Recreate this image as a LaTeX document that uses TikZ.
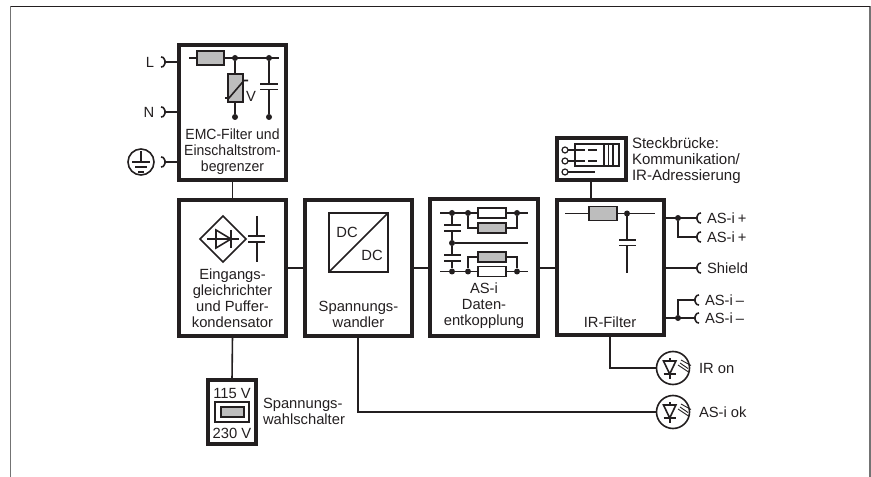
\documentclass[tikz,border=0pt]{standalone}
\usepackage{fontspec}
\usetikzlibrary{shapes.geometric}
\setmainfont{Liberation Sans}
\newfontfamily\tightfont[FakeStretch=0.95]{Liberation Sans}
\definecolor{ink}{HTML}{231F20}
\definecolor{fillgray}{HTML}{BDBDBD}
\tikzset{
  x=1bp,y=-1bp,
  ln/.style={line width=1.6bp,draw=ink},
  blk/.style={draw=ink,line width=4bp,fill=white,rectangle,inner sep=0,outer sep=0},
  res/.style={draw=ink,line width=1.6bp,fill=white,rectangle,inner sep=0,outer sep=0},
  resg/.style={res,fill=fillgray},
  ledc/.style={draw=ink,line width=1.6bp,circle,fill=white,minimum size=33bp,inner sep=0,outer sep=0},
  txt/.style={text=ink,inner sep=0,outer sep=0,align=center,font=\fontsize{14.8}{16}\selectfont},
  ltxt/.style={txt,align=left,anchor=west},
  dot/.style={circle,fill=ink,inner sep=0,outer sep=0,minimum size=6bp},
  rplug/.pic={\draw[ln] (-3,-5) .. controls (1,-5) and (0,-1.5) .. (1.5,0) .. controls (0,1.5) and (1,5) .. (-3,5);},
  lplug/.pic={\draw[ln] (3,-5) .. controls (-1,-5) and (0,-1.5) .. (-1.5,0) .. controls (0,1.5) and (-1,5) .. (3,5);},
  ledsym/.pic={
    \draw[ln] (-3.3,-10) -- (-3.3,11);
    \draw[ln] (-9.5,6) -- (2.9,6);
    \draw[ln,fill=white] (-9.5,-7) -- (2.9,-7) -- (-3.3,6) -- cycle;
    \draw[line width=0.9bp,draw=ink] (5,-3) -- (15.5,4);
    \draw[line width=0.9bp,draw=ink] (8,-8) -- (18,-2.5);
    \draw[line width=0.9bp,draw=ink] (7,-5) -- (15,0.5);
  },
}
\begin{document}
\begin{tikzpicture}
\useasboundingbox (0,0) rectangle (871,477);
% frame
\coordinate (fbl) at (10.5,477);
\coordinate (ftl) at (10.5,6.5);
\coordinate (ftr) at (870,6.5);
\coordinate (fbr) at (870,477);
\draw[line width=1.2bp,draw=black!55] (fbl) -- (ftl);
\draw[line width=1.2bp,draw=black!55] (ftr) -- (fbr);
\draw[line width=1.2bp,draw=ink] (ftl) -- (ftr);

% blocks
\node[blk,minimum width=107bp,minimum height=135bp] (emc) at (232.5,112.5) {};
\node[blk,minimum width=107bp,minimum height=136bp] (rect) at (232.5,268) {};
\node[blk,minimum width=107bp,minimum height=136bp] (conv) at (358.5,268) {};
\node[blk,minimum width=108bp,minimum height=136bp] (data) at (484,267.5) {};
\node[blk,minimum width=107bp,minimum height=135bp] (irf) at (610.5,267.5) {};
\node[blk,minimum width=69bp,minimum height=42bp] (jump) at (591,159.5) {};
\node[blk,minimum width=48bp,minimum height=64bp] (volt) at (232,412) {};

% connectors between blocks
\draw[ln] (emc.south) -- (rect.north);
\draw[ln] (rect.south) -- (volt.north);
\draw[ln] (rect.east) -- (conv.west);
\draw[ln] (conv.east) -- (data.west |- conv.east);
\draw[ln] (data.east |- conv.east) -- (irf.west |- conv.east);
\draw[ln] (jump.south) -- (irf.north -| jump.south);

% input plugs
\node[txt] (tL) at (150,62) {L};
\node[txt] (tN) at (149,112) {N};
\node[draw=ink,line width=1.6bp,circle,minimum size=26bp,inner sep=0,outer sep=0] (gnd) at (141,162) {};
\coordinate (pL) at (164,62);
\coordinate (pN) at (164,112);
\coordinate (pG) at (164,162);
\pic at (pL) {rplug};
\pic at (pN) {rplug};
\pic at (pG) {rplug};
\draw[ln] (pL) -- (pL -| emc.west);
\draw[ln] (pN) -- (pN -| emc.west);
\draw[ln] (pG) -- (pG -| emc.west);
\coordinate (g0) at (141,151);
\coordinate (g1) at (141,162);
\draw[ln] (g0) -- (g1);
\draw[ln] (132,162) -- (150,162);
\draw[ln] (135,167) -- (147,167);
\draw[ln] (138,172) -- (144,172);

% EMC interior
\coordinate (ea) at (189,58);
\coordinate (eb) at (279,58);
\draw[ln] (ea) -- (eb);
\node[resg,minimum width=27bp,minimum height=14bp] (er) at (210.5,58) {};
\node[dot] (ed1) at (235,58) {};
\node[dot] (ed2) at (269,58) {};
\node[dot] (ed3) at (235,117) {};
\node[dot] (ed4) at (269,117) {};
\draw[ln] (ed1) -- (ed3);
\node[resg,minimum width=15bp,minimum height=28bp] (evar) at (235.5,88) {};
\draw[ln] (225,98) -- (229,98) -- (244,80.5) -- (248,80.5);
\node[txt] (tV) at (251,96.5) {V};
\coordinate (ec1) at (269,84);
\coordinate (ec2) at (269,89.5);
\draw[ln] (ed2) -- (ec1);
\draw[ln] (ec2) -- (ed4);
\draw[ln] (260,84) -- (278,84);
\draw[ln] (260,89.5) -- (278,89.5);
\node[txt,font=\tightfont\fontsize{14.8}{16}\selectfont] (temc) at (232.5,151.5) {EMC-Filter und\\Einschaltstrom-\\begrenzer};

% rectifier interior
\node[draw=ink,line width=1.6bp,diamond,aspect=1,inner sep=0,outer sep=0,minimum size=46bp] (rd) at (223,239) {};
\draw[ln] (rd.center) ++(-16,0) -- ++(32,0);
\draw[ln] (216,230) -- (216,248) -- (231,239) -- cycle;
\draw[ln] (231,230) -- (231,248);
\coordinate (rc1) at (257,216);
\coordinate (rc2) at (257,262);
\draw[ln] (rc1) -- (257,236);
\draw[ln] (257,242) -- (rc2);
\draw[ln] (248,236) -- (265,236);
\draw[ln] (248,242) -- (265,242);
\node[txt] (trect) at (232.5,298.5) {Eingangs-\\gleichrichter\\und Puffer-\\kondensator};

% DC/DC
\node[draw=ink,line width=1.6bp,rectangle,inner sep=0,outer sep=0,minimum width=59bp,minimum height=59bp] (dcb) at (358.5,242.5) {};
\draw[ln] (dcb.south west) -- (dcb.north east);
\node[txt] (dc1) at (347,232) {DC};
\node[txt] (dc2) at (372,255) {DC};
\node[txt] (tconv) at (358.5,314) {Spannungs-\\wandler};

% data decoupling
\coordinate (d1) at (440,213);
\coordinate (d2) at (528,213);
\coordinate (d3) at (528,243);
\coordinate (d4) at (440,271.5);
\coordinate (d5) at (528,271.5);
\draw[ln] (d1) -- (d2);
\draw[ln] (d4) -- (d5);
\node[dot] (da) at (452,213) {};
\node[dot] (db) at (468,213) {};
\node[dot] (dc) at (517,213) {};
\node[dot] (dd) at (452,243) {};
\node[dot] (de) at (452,271.5) {};
\node[dot] (df) at (468,271.5) {};
\node[dot] (dg) at (517,271.5) {};
\draw[ln] (dd) -- (d3);
\draw[ln] (da) -- (452,225);
\draw[ln] (452,231) -- (dd);
\draw[ln] (dd) -- (452,255);
\draw[ln] (452,261) -- (de);
\draw[ln] (444,225) -- (461,225);
\draw[ln] (444,231) -- (461,231);
\draw[ln] (444,255) -- (461,255);
\draw[ln] (444,261) -- (461,261);
\draw[ln] (db) -- (468,228) -- (517,228) -- (dc);
\draw[ln] (df) -- (468,257) -- (517,257) -- (dg);
\node[res,minimum width=28bp,minimum height=10bp] (dr1) at (492,213) {};
\node[resg,minimum width=28bp,minimum height=10bp] (dr2) at (492,228) {};
\node[resg,minimum width=28bp,minimum height=10bp] (dr3) at (492,257) {};
\node[res,minimum width=28bp,minimum height=10bp] (dr4) at (492,271.5) {};
\node[txt] (tdata) at (484,306) {AS-i\\Daten-\\entkopplung};

% jumper
\node[draw=ink,line width=1.2bp,circle,fill=white,minimum size=6bp,inner sep=0,outer sep=0] (j1) at (565,150) {};
\node[draw=ink,line width=1.2bp,circle,fill=white,minimum size=6bp,inner sep=0,outer sep=0] (j2) at (565,161) {};
\node[draw=ink,line width=1.2bp,circle,fill=white,minimum size=6bp,inner sep=0,outer sep=0] (j3) at (565,172) {};
\node[draw=ink,line width=1.2bp,rectangle,inner sep=0,outer sep=0,minimum width=44bp,minimum height=22bp] (jr) at (597,155) {};
\coordinate (je1) at (585,150);
\coordinate (je2) at (585,161);
\coordinate (je3) at (595,172);
\draw[ln] (j1) -- (je1);
\draw[ln] (j2) -- (je2);
\draw[ln] (j3) -- (je3);
\draw[ln] (588,150) -- (597,150);
\draw[ln] (588,161) -- (597,161);
\draw[ln] (604,144) -- (604,166);
\draw[ln] (608.5,144) -- (608.5,166);
\draw[ln] (613,144) -- (613,166);
\node[ltxt,anchor=north west,font=\fontsize{15.1}{16}\selectfont] (tjump) at (632,138) {Steckbrücke:\\Kommunikation/\\IR-Adressierung};

% IR filter interior
\coordinate (ia) at (565,213.5);
\coordinate (ib) at (655,213.5);
\draw[ln] (ia) -- (ib);
\node[resg,minimum width=28bp,minimum height=14bp] (ir) at (603,213.5) {};
\node[dot] (id) at (627,213.5) {};
\coordinate (ic1) at (627,240);
\coordinate (ic2) at (627,245.5);
\coordinate (ic3) at (627,273);
\draw[ln] (id) -- (ic1);
\draw[ln] (ic2) -- (ic3);
\draw[ln] (619,240) -- (636,240);
\draw[ln] (619,245.5) -- (636,245.5);
\node[txt] (tir) at (610,322) {IR-Filter};

% outputs
\coordinate (p1) at (698,218);
\coordinate (p2) at (698,237);
\coordinate (p3) at (698,268);
\coordinate (p4) at (696,300);
\coordinate (p5) at (696,318);
\pic at (p1) {lplug};
\pic at (p2) {lplug};
\pic at (p3) {lplug};
\pic at (p4) {lplug};
\pic at (p5) {lplug};
\node[dot] (od1) at (678,218) {};
\node[dot] (od2) at (678,318) {};
\draw[ln] (p1 -| irf.east) -- (p1);
\draw[ln] (od1) -- (od1 |- p2) -- (p2);
\draw[ln] (p3 -| irf.east) -- (p3);
\draw[ln] (p5 -| irf.east) -- (p5);
\draw[ln] (od2) -- (od2 |- p4) -- (p4);
\node[ltxt] (o1) at (707,218) {AS-i\kern-1pt\ +};
\node[ltxt] (o2) at (707,237) {AS-i\kern-1pt\ +};
\node[ltxt] (o3) at (707,268) {Shield};
\node[ltxt] (o4) at (705,300) {AS-i\kern-1pt\ –};
\node[ltxt] (o5) at (705,318) {AS-i\kern-1pt\ –};

% LEDs
\node[ledc] (led1) at (673,368) {};
\node[ledc] (led2) at (673,412) {};
\pic at (led1) {ledsym};
\pic at (led2) {ledsym};
\coordinate (l1) at (610,337);
\coordinate (l2) at (358,336);
\draw[ln] (l1) -- (l1 |- led1.west) -- (led1.west);
\draw[ln] (l2) -- (l2 |- led2.west) -- (led2.west);
\node[ltxt] (tl1) at (699,368) {IR on};
\node[ltxt] (tl2) at (699,412) {AS-i ok};

% voltage selector
\node[txt] (v1) at (232,393) {115 V};
\node[draw=ink,line width=1.6bp,rectangle,inner sep=0,outer sep=0,minimum width=34bp,minimum height=20bp] (vo) at (232,412) {};
\node[resg,minimum width=23bp,minimum height=10bp] (vi) at (232.5,412) {};
\node[txt] (v2) at (232,433) {230 V};
\node[ltxt] (tv) at (263,411.5) {Spannungs-\\wahlschalter};
\end{tikzpicture}
\end{document}
